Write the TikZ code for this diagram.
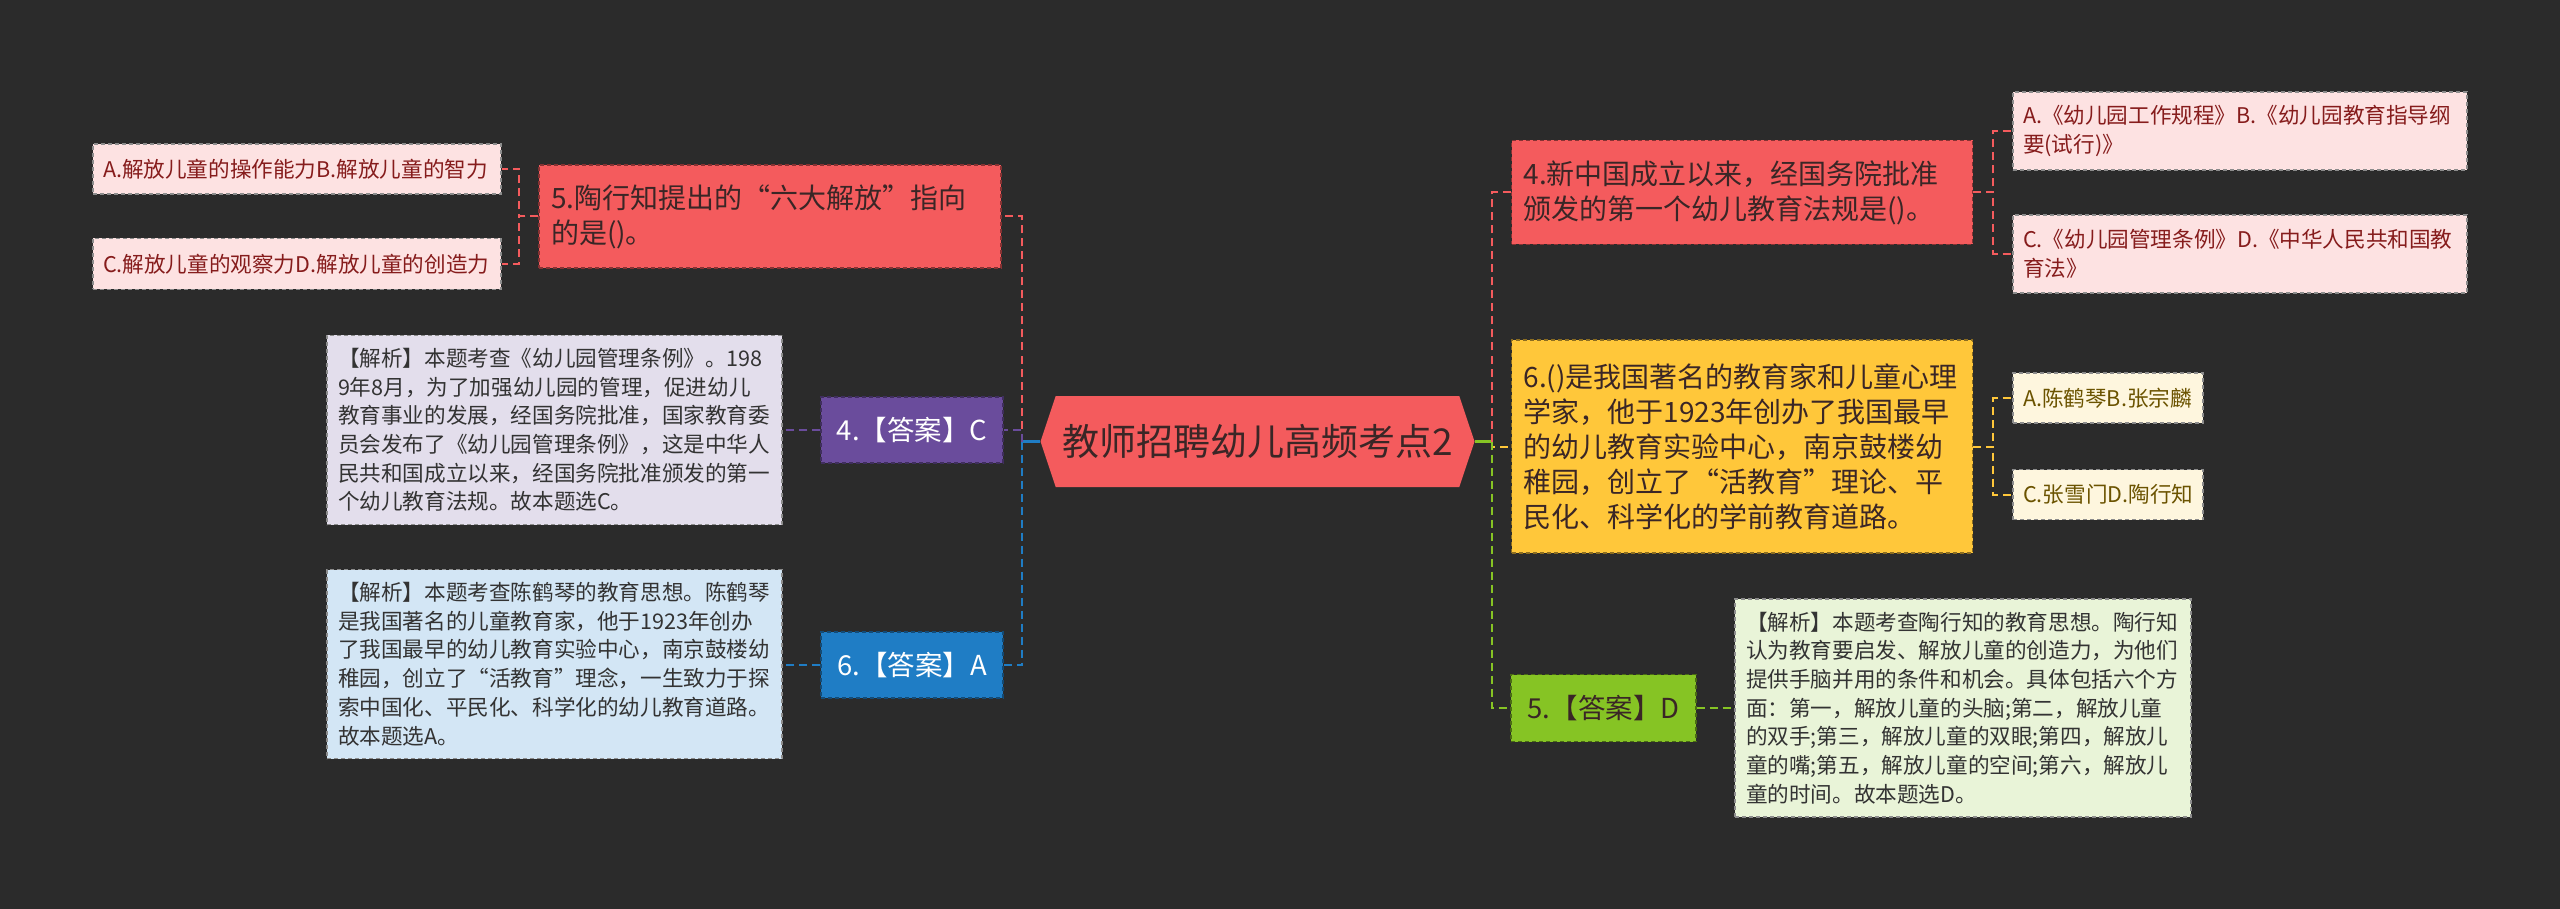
\documentclass[tikz,border=0pt]{standalone}
\usepackage{fontspec}
\setmainfont{Noto Sans CJK SC}
\usetikzlibrary{shapes.symbols}
\definecolor{bg}{HTML}{2B2B2B}
\definecolor{qred}{HTML}{F45B5D}
\definecolor{qtxt}{HTML}{3A2626}
\definecolor{optpink}{HTML}{FDE2E2}
\definecolor{opttxt}{HTML}{861C1C}
\definecolor{anspurple}{HTML}{6A4C9C}
\definecolor{lavender}{HTML}{E3DEEC}
\definecolor{ansblue}{HTML}{1F7DC5}
\definecolor{lightblue}{HTML}{D3E6F5}
\definecolor{qyellow}{HTML}{FFC73A}
\definecolor{lightyellow}{HTML}{FEF6DE}
\definecolor{yeltxt}{HTML}{6B5300}
\definecolor{ansgreen}{HTML}{86C424}
\definecolor{lightgreen}{HTML}{E9F4D8}
\definecolor{anatxt}{HTML}{333333}

\begin{document}
\begin{tikzpicture}[x=1pt, y=-1pt,
  box/.style={rectangle, line width=1.2pt, dash pattern=on 4pt off 3pt, inner xsep=12pt, inner ysep=0pt, align=left},
  qbox/.style={box, fill=qred, draw=qred!55!black, text=qtxt, font=\fontsize{28}{35}\selectfont},
  optbox/.style={box, draw=black!45, font=\fontsize{21.6}{28.7}\selectfont},
  anabox/.style={box, draw=black!45, text=anatxt, font=\fontsize{21.6}{28.7}\selectfont},
  ansbox/.style={box, align=center, font=\fontsize{27.5}{35}\selectfont},
  link/.style={line width=2pt, dash pattern=on 8pt off 5pt},
  stub/.style={line width=2.5pt}]
  \fill[bg] (0,0) rectangle (2560,909);
  \useasboundingbox (0,0) rectangle (2560,909);

  % root
  \node[signal, signal to=west and east, signal pointer angle=143, fill=qred, minimum width=434pt, minimum height=91pt, inner sep=0pt, text=qtxt, font=\fontsize{37}{40}\selectfont] (root) at (1257.5,441.5) {教师招聘幼儿高频考点2};
  \coordinate (lbus) at (1022,441.5);
  \coordinate (rbus) at (1492,441.5);

  % left: question 5
  \node[qbox, text width=438pt, minimum height=103pt] (q5) at (770,216.5) {5.陶行知提出的“六大解放”指向\\的是()。};
  \node[optbox, fill=optpink, text=opttxt, text width=388pt, minimum height=50pt, inner xsep=10pt] (optAL) at (297,169) {A.解放儿童的操作能力B.解放儿童的智力};
  \node[optbox, fill=optpink, text=opttxt, text width=388pt, minimum height=51pt, inner xsep=10pt] (optCL) at (297,264) {C.解放儿童的观察力D.解放儿童的创造力};

  % left: answer 4
  \node[ansbox, fill=anspurple, draw=anspurple!60!black, text=white, minimum width=182pt, minimum height=66pt] (ans4) at (912,430) {4.【答案】C};
  \node[anabox, fill=lavender, text width=433pt, minimum height=189pt, inner xsep=11pt] (ana4) at (554.5,430) {【解析】本题考查《幼儿园管理条例》。198\\9年8月，为了加强幼儿园的管理，促进幼儿\\教育事业的发展，经国务院批准，国家教育委\\员会发布了《幼儿园管理条例》，这是中华人\\民共和国成立以来，经国务院批准颁发的第一\\个幼儿教育法规。故本题选C。};

  % left: answer 6
  \node[ansbox, fill=ansblue, draw=ansblue!60!black, text=white, minimum width=182pt, minimum height=66pt] (ans6) at (912,665) {6.【答案】A};
  \node[anabox, fill=lightblue, text width=433pt, minimum height=189pt, inner xsep=11pt] (ana6) at (554.5,664) {【解析】本题考查陈鹤琴的教育思想。陈鹤琴\\是我国著名的儿童教育家，他于1923年创办\\了我国最早的幼儿教育实验中心，南京鼓楼幼\\稚园，创立了“活教育”理念，一生致力于探\\索中国化、平民化、科学化的幼儿教育道路。\\故本题选A。};

  % right: question 4
  \node[qbox, text width=437pt, minimum height=104pt] (q4) at (1742,192.5) {4.新中国成立以来，经国务院批准\\颁发的第一个幼儿教育法规是()。};
  \node[optbox, fill=optpink, text=opttxt, text width=434pt, minimum height=78pt, inner xsep=10pt] (optAR) at (2240,131) {A.《幼儿园工作规程》B.《幼儿园教育指导纲\\要(试行)》};
  \node[optbox, fill=optpink, text=opttxt, text width=434pt, minimum height=78pt, inner xsep=10pt] (optCR) at (2240,254) {C.《幼儿园管理条例》D.《中华人民共和国教\\育法》};

  % right: question 6
  \node[qbox, fill=qyellow, draw=qyellow!55!black, text width=437pt, minimum height=213pt] (q6) at (1742,446.5) {6.()是我国著名的教育家和儿童心理\\学家，他于1923年创办了我国最早\\的幼儿教育实验中心，南京鼓楼幼\\稚园，创立了“活教育”理论、平\\民化、科学化的学前教育道路。};
  \node[optbox, fill=lightyellow, text=yeltxt, text width=170pt, minimum height=50pt, inner xsep=10pt] (optA6) at (2108,398) {A.陈鹤琴B.张宗麟};
  \node[optbox, fill=lightyellow, text=yeltxt, text width=170pt, minimum height=50pt, inner xsep=10pt] (optC6) at (2108,494.5) {C.张雪门D.陶行知};

  % right: answer 5
  \node[ansbox, fill=ansgreen, draw=ansgreen!55!black, text=qtxt, minimum width=185pt, minimum height=67pt] (ans5) at (1603.5,708) {5.【答案】D};
  \node[anabox, fill=lightgreen, text width=434pt, minimum height=218pt, inner xsep=11pt] (ana5) at (1963,708) {【解析】本题考查陶行知的教育思想。陶行知\\认为教育要启发、解放儿童的创造力，为他们\\提供手脑并用的条件和机会。具体包括六个方\\面：第一，解放儿童的头脑;第二，解放儿童\\的双手;第三，解放儿童的双眼;第四，解放儿\\童的嘴;第五，解放儿童的空间;第六，解放儿\\童的时间。故本题选D。};

  % connectors, left
  \draw[stub, ansblue] (root.west) -- (lbus);
  \draw[link, qred] (lbus) |- (q5.east);
  \draw[link, anspurple] (lbus) |- (ans4.east);
  \draw[link, ansblue] (lbus) |- (ans6.east);
  \draw[link, qred] (q5.west) -- ++(-19,0) |- (optAL.east);
  \draw[link, qred] (q5.west) -- ++(-19,0) |- (optCL.east);
  \draw[link, anspurple] (ans4.west) -- (ans4.west -| ana4.east);
  \draw[link, ansblue] (ans6.west) -- (ans6.west -| ana6.east);

  % connectors, right
  \draw[stub, ansgreen] (root.east) -- (rbus);
  \draw[link, qred] (rbus) |- (q4.west);
  \draw[link, qyellow] (rbus) |- (q6.west);
  \draw[link, ansgreen] (rbus) |- (ans5.west);
  \draw[link, qred] (q4.east) -- ++(20,0) |- (optAR.west);
  \draw[link, qred] (q4.east) -- ++(20,0) |- (optCR.west);
  \draw[link, qyellow] (q6.east) -- ++(20,0) |- (optA6.west);
  \draw[link, qyellow] (q6.east) -- ++(20,0) |- (optC6.west);
  \draw[link, ansgreen] (ans5.east) -- (ans5.east -| ana5.west);
\end{tikzpicture}
\end{document}
